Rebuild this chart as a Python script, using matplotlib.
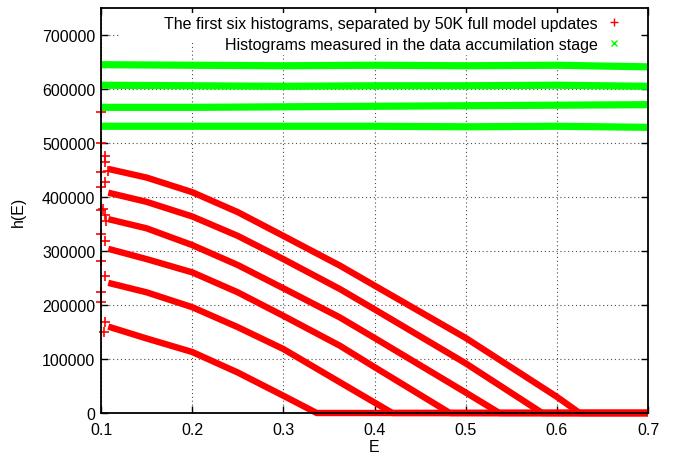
import matplotlib
matplotlib.use("Agg")
import matplotlib.pyplot as plt
from matplotlib.patches import Rectangle

plt.rcParams['font.family'] = ['Liberation Sans', 'DejaVu Sans']

# ---------------- data ----------------
# six early histograms (red): smooth band
E1 = [0.108, 0.15, 0.2, 0.25, 0.3, 0.3366, 0.7]
H1 = [160000, 138000, 113000, 75000, 32000, 0, 0]
E2 = [0.108, 0.15, 0.2, 0.25, 0.3, 0.362, 0.4196, 0.7]
H2 = [241000, 223500, 196000, 159000, 118500, 57000, 0, 0]
E3 = [0.108, 0.15, 0.2, 0.25, 0.3, 0.362, 0.4, 0.4827, 0.7]
H3 = [304000, 285000, 260500, 223500, 180000, 124600, 85000, 0, 0]
E4 = [0.108, 0.15, 0.2, 0.25, 0.3, 0.362, 0.4, 0.5, 0.537, 0.7]
H4 = [359000, 342000, 311000, 274000, 231000, 177000, 139000, 38000, 0, 0]
E5 = [0.108, 0.15, 0.2, 0.25, 0.3, 0.362, 0.4, 0.5, 0.584, 0.7]
H5 = [408000, 391000, 364000, 328000, 285000, 229600, 192000, 92000, 0, 0]
E6 = [0.108, 0.15, 0.2, 0.25, 0.3, 0.362, 0.4, 0.5, 0.6, 0.625, 0.7]
H6 = [452000, 436000, 409000, 372000, 328000, 273000, 236000, 139000, 30000, 0, 0]

# scattered first bins of the red histograms
E_first = [0.100, 0.100, 0.104, 0.104, 0.100, 0.108, 0.104, 0.100, 0.102,
           0.100, 0.104, 0.106, 0.100, 0.104, 0.100, 0.104, 0.100, 0.100,
           0.104, 0.103]
H_first = [557000, 500000, 476000, 465000, 446000, 449000, 428000, 418000, 378000,
           376000, 366000, 356000, 331000, 319000, 282000, 254000, 224000, 205000,
           168000, 150000]

# histograms of the data accumulation stage (green)
E_acc = [0.1, 0.2, 0.3, 0.4, 0.5, 0.6, 0.7]
G1 = [645000, 644000, 643000, 644000, 643000, 644000, 641000]
G2 = [607000, 606000, 605000, 606000, 606000, 607000, 605000]
G3 = [566000, 566000, 567000, 568000, 569000, 570000, 571000]
G4 = [531000, 531000, 531000, 531000, 530000, 531000, 529000]

label_red = 'The first six histograms, separated by 50K full model updates'
label_green = 'Histograms measured in the data accumilation stage'

xticks = [0.1, 0.2, 0.3, 0.4, 0.5, 0.6, 0.7]
yticks = [0, 100000, 200000, 300000, 400000, 500000, 600000, 700000]

# ---------------- figure ----------------
W, H = 679, 456
fig = plt.figure(figsize=(W / 100, H / 100), dpi=100)
L, R, T, B = 101, 648, 9, 414
ax = fig.add_axes([L / W, 1 - B / H, (R - L) / W, (B - T) / H])
ax.set_xlim(0.1, 0.7)
ax.set_ylim(0, 750000)

red = '#ff0000'
green = '#00ff00'

for Ex, Hx in [(E1, H1), (E2, H2), (E3, H3), (E4, H4), (E5, H5), (E6, H6)]:
    ax.plot(Ex, Hx, color=red, lw=4.6, solid_capstyle='butt',
            solid_joinstyle='round', clip_on=False, zorder=3)
ax.plot(E_first, H_first, ls='none', marker='+', ms=7, mew=1.2, color=red,
        clip_on=False, zorder=3)

for G in [G1, G2, G3, G4]:
    ax.plot(E_acc, G, color=green, lw=5.2, solid_capstyle='butt', clip_on=False,
            zorder=3)

# legend proxies
h_red, = ax.plot([], [], ls='none', marker='+', ms=6, mew=1.0, color=red)
h_green, = ax.plot([], [], ls='none', marker='x', ms=4.5, mew=1.0, color=green)

# white boxes behind the key rows (hide grid)
def px2ax(xp, yp):
    return (xp - L) / (R - L), (B - yp) / (B - T)

x0, y0 = px2ax(121, 42)
x1, y1 = px2ax(641, 14)
ax.add_patch(Rectangle((x0, y0), x1 - x0, y1 - y0, transform=ax.transAxes,
                       facecolor='white', edgecolor='none', zorder=1))
x0, y0 = px2ax(200, 56)
x1, y1 = px2ax(641, 42)
ax.add_patch(Rectangle((x0, y0), x1 - x0, y1 - y0, transform=ax.transAxes,
                       facecolor='white', edgecolor='none', zorder=1))

fs = 11.5
ax_anchor = px2ax(622, 17)
leg = ax.legend([h_red, h_green], [label_red, label_green], loc='upper right',
                bbox_to_anchor=ax_anchor, bbox_transform=ax.transAxes,
                frameon=False, markerfirst=False, borderpad=0, borderaxespad=0,
                handlelength=1.0, handletextpad=0.5, labelspacing=0.35,
                fontsize=fs, numpoints=1)
leg.set_zorder(5)

ax.set_xticks(xticks)
ax.set_xticklabels([f'{v:.1f}' for v in xticks])
ax.set_yticks(yticks)
ax.set_yticklabels([str(v) for v in yticks])
ax.tick_params(direction='in', length=5, width=1.0, top=True, right=True,
               labelsize=fs, colors='black')
ax.tick_params(axis='x', pad=6.5)
ax.tick_params(axis='y', pad=4)

ax.set_axisbelow(True)
ax.grid(True, color='0.3', linestyle=(0, (1, 2.5)), linewidth=0.8)
for s in ax.spines.values():
    s.set_linewidth(1.3)
    s.set_color('black')
    s.set_zorder(4)

ax.set_xlabel('E', fontsize=fs)
ax.set_ylabel('h(E)', fontsize=fs)
ax.xaxis.set_label_coords(0.5, (B - 440) / (B - T))
ax.yaxis.set_label_coords((26 - L) / (R - L), 0.5)

fig.savefig('out.png', dpi=100)
